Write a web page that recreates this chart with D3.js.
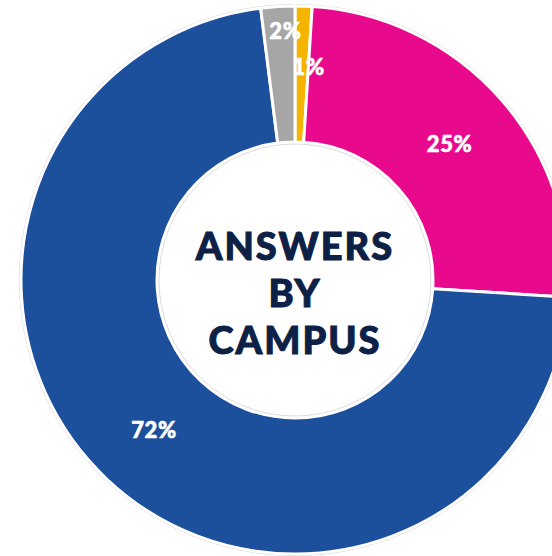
<!DOCTYPE html>
<html>
<head>
<meta charset="utf-8">
<script src="https://cdn.jsdelivr.net/npm/d3@7"></script>
<style>
  body { margin: 0; background: #fff; }
  svg { display: block; }
  text { font-family: "Lato Black", Lato, "Noto Sans", sans-serif; font-weight: 900; }
</style>
</head>
<body>
<div class="chart-parent"></div>
<script>
// campus shares, clockwise from 12 o'clock
var campuses = ["Campus D", "Campus B", "Campus A", "Campus C"];
var shares = [1, 25, 72, 2];
var colors = ["#f5b400", "#e8098c", "#1c4f9c", "#a6a6a6"];
var labels = ["1%", "25%", "72%", "2%"];
var titleLines = ["ANSWERS", "BY", "CAMPUS"];

var width = 552, height = 556;
var cx = 295, cy = 280;
var outerR = 274, innerR = 138;

var svg = d3.select(".chart-parent").append("svg")
    .attr("width", width)
    .attr("height", height);

var g = svg.append("g")
    .attr("transform", "translate(" + cx + "," + cy + ")");

var pie = d3.pie().sort(null).value(function(d){ return d; });
var arcs = pie(shares);

var arc = d3.arc().innerRadius(innerR).outerRadius(outerR);

// faint grey rims
g.append("circle").attr("r", outerR + 1.5)
    .attr("fill", "none").attr("stroke", "#d6d6d6").attr("stroke-width", 1);

g.selectAll("path.slice")
    .data(arcs)
    .enter()
    .append("path")
    .attr("class", "slice")
    .attr("d", arc)
    .attr("fill", function(d, i){ return colors[i]; })
    .attr("stroke", "#fff")
    .attr("stroke-width", 3)
    .attr("stroke-linejoin", "round");

g.append("circle").attr("r", innerR - 2)
    .attr("fill", "#fff").attr("stroke", "#dcdcdc").attr("stroke-width", 1);

// small slices get their labels pushed outwards
var labelRadius = [213, 206, 206, 249];
var labelShift = [7, 0, 0, 6];
g.selectAll("text.pct")
    .data(arcs)
    .enter()
    .append("text")
    .attr("class", "pct")
    .attr("transform", function(d, i){
        var a = (d.startAngle + d.endAngle) / 2;
        var r = labelRadius[i];
        return "translate(" + (Math.sin(a) * r + labelShift[i]) + "," + (-Math.cos(a) * r) + ")";
    })
    .attr("text-anchor", "middle")
    .attr("dy", "0.36em")
    .attr("fill", "#fff")
    .attr("stroke", "#fff")
    .attr("stroke-width", 0.6)
    .attr("font-size", 22)
    .attr("letter-spacing", 0.6)
    .text(function(d, i){ return labels[i]; });

// heavier look via a thin stroke of the same colour
var title = g.append("g");
title.selectAll("text")
    .data(titleLines)
    .enter()
    .append("text")
    .attr("x", 0)
    .attr("y", function(d, i){ return -20 + i * 47; })
    .attr("text-anchor", "middle")
    .attr("fill", "#0d2046")
    .attr("stroke", "#0d2046")
    .attr("stroke-width", 1)
    .attr("font-size", 38)
    .attr("letter-spacing", 2)
    .text(function(d){ return d; });
</script>
</body>
</html>
